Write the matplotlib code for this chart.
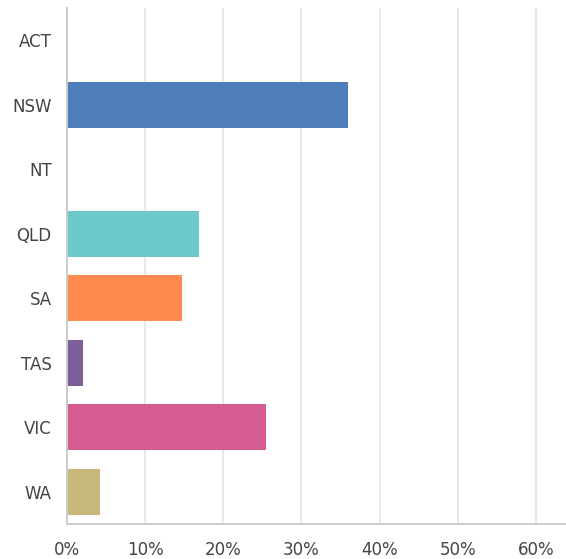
import matplotlib.pyplot as plt
from matplotlib.ticker import FuncFormatter

states = ["ACT", "NSW", "NT", "QLD", "SA", "TAS", "VIC", "WA"]
shares = [0.0, 35.9, 0.0, 16.9, 14.7, 2.1, 25.4, 4.2]
colors = ["#4E7FB9", "#4E7FB9", "#6CC9CB", "#6CC9CB", "#FF8C4E",
          "#7D5E99", "#D45C91", "#C8B97A"]
xticks = [0, 10, 20, 30, 40, 50, 60]

fig = plt.figure(figsize=(5.66, 5.59), dpi=100)
ax = fig.add_axes([0.1184, 0.0626, 0.8816, 0.923])

ax.barh(range(len(states)), shares, height=0.72, color=colors, zorder=3)

ax.set_ylim(len(states) - 0.5, -0.5)
ax.set_xlim(0, 63.85)
ax.set_yticks(range(len(states)))
ax.set_yticklabels(states)
ax.set_xticks(xticks)
ax.xaxis.set_major_formatter(FuncFormatter(lambda v, p: "{:.0f}%".format(v)))

ax.grid(axis="x", color="#e8e8e8", linewidth=1.4, zorder=0)
for s in ["top", "right"]:
    ax.spines[s].set_visible(False)
for s in ["left", "bottom"]:
    ax.spines[s].set_color("#cccccc")
    ax.spines[s].set_linewidth(1.4)
    ax.spines[s].set_zorder(4)

ax.tick_params(axis="both", length=0, labelsize=12, labelcolor="#444444")
ax.tick_params(axis="x", pad=12)
ax.tick_params(axis="y", pad=11)

fig.savefig("out.png", dpi=100)
